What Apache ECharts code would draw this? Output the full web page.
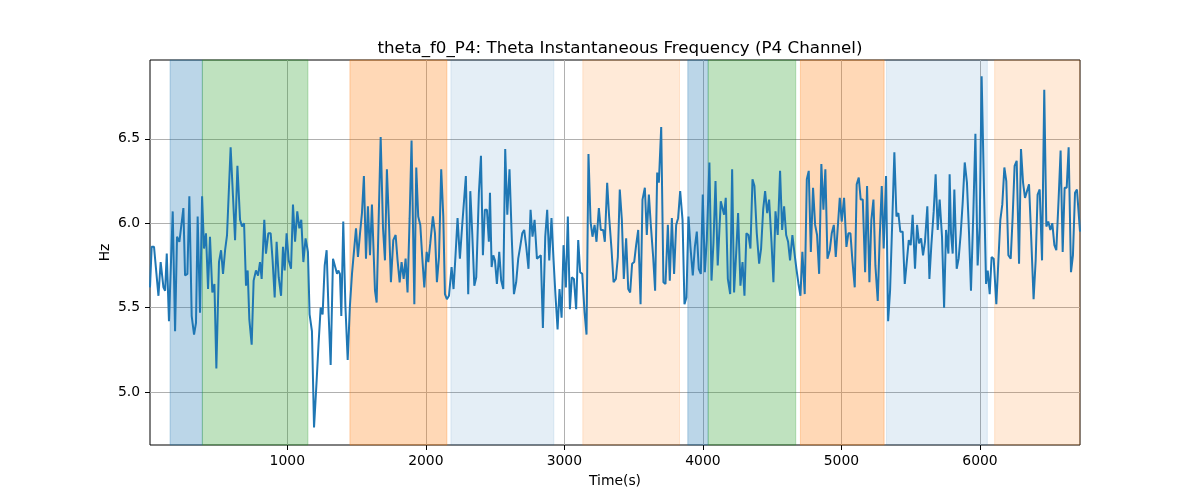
<!DOCTYPE html>
<html>
<head>
<meta charset="utf-8">
<script src="https://cdn.jsdelivr.net/npm/echarts@6/dist/echarts.min.js"></script>
<style>html,body{margin:0;padding:0;background:#fff;}#c{width:1200px;height:500px;}</style>
</head>
<body>
<div id="c"></div>
<script>
var titleText = 'theta_f0_P4: Theta Instantaneous Frequency (P4 Channel)';
var xTicks = [1000, 2000, 3000, 4000, 5000, 6000];
var yTicks = [5.0, 5.5, 6.0, 6.5];

var times = [
9,21,38,70,86,106,118,130,146,173,190,204,221,250,262,279,293,310,327,341,353,370,385,399,413,428,442,459,474,488,507,522,536,551,565,591,608,623,640,659,673,688,702,714,726,743,757,774,789,
803,815,834,846,863,880,894,909,923,938,955,969,981,995,1010,1027,1041,1056,1072,1087,1101,1116,1132,1149,1161,1178,1193,1212,1226,1241,1255,1270,1284,1298,1313,1330,1344,1359,1368,1380,1390,1404,1419,1436,1452,1467,1481,1496,1510,1525,1539,1553,1568,1582,1597,1611,
1633,1645,1674,1691,1705,1719,1734,1748,1765,1782,1796,1811,1825,1840,1854,1868,1883,1897,1917,1931,1945,1960,1974,1989,2006,2018,2032,2051,2066,2080,2095,2111,2126,2138,2152,2167,2186,2200,2215,2229,2246,2261,2275,2289,2306,2321,2335,2350,2364,2383,2398,2412,2426,2441,2455,
2463,2475,2487,2499,2513,2530,2544,2559,2573,2588,2604,2621,2636,2652,2667,2681,2696,2710,2725,2741,2756,2770,2785,2802,2816,2830,2845,2862,2876,2891,2907,2922,2936,2951,2965,2980,2994,3011,3025,3040,3054,3069,3085,3100,3114,3129,3146,3160,3174,3189,3203,3218,3232,3249,3263,3280,
3292,3309,3323,3340,3355,3372,3386,3400,3415,3429,3446,3461,3475,3489,3504,3518,3533,3550,3564,3581,3595,3610,3624,3641,3655,3670,3682,3699,3715,3730,3747,3761,3776,3792,3807,3821,3836,3853,3867,3881,3896,3910,3927,3942,3956,3970,3985,3999,4014,4028,4047,4062,4076,4091,4107,
4129,4141,4153,4165,4180,4197,4211,4225,4240,4254,4271,4286,4300,4314,4329,4343,4358,4372,4389,4406,4420,4435,4449,4464,4478,4495,4509,4524,4540,4557,4572,4586,4601,4615,4629,4646,4663,4675,4690,4704,4718,4735,4750,4764,4779,4795,4810,4824,4839,4855,4870,4884,4899,4916,4930,4945,
4959,4973,4988,5002,5019,5036,5050,5065,5079,5096,5110,5125,5139,5154,5171,5185,5202,5216,5231,5245,5262,5276,5291,5305,5322,5337,5351,5368,5382,5397,5411,5425,5442,5457,5471,5486,5500,5514,5531,5546,5560,5575,5589,5603,5620,5635,5649,5666,5680,5695,5709,5726,5741,5755,5772,
5781,5791,5803,5815,5832,5846,5861,5875,5890,5906,5921,5935,5952,5967,5983,5998,6012,6029,6044,6056,6070,6084,6099,6118,6133,6147,6161,6176,6190,6205,6222,6236,6250,6265,6282,6296,6311,6325,6339,6354,6368,6387,6402,6416,6431,6448,6464,6479,6493,6508,6522,6537,6551,6568,6582,6597,6611,6626,6640,6657,6671,6686,6700,6722
];

var freqHz = [
5.62,5.86,5.86,5.57,5.77,5.62,5.60,5.82,5.42,6.07,5.36,5.92,5.89,6.09,5.69,5.70,6.16,5.45,5.34,5.41,6.04,5.47,6.16,5.85,5.94,5.61,5.92,5.59,5.64,5.14,5.77,5.84,5.70,5.84,5.93,6.45,6.16,5.90,6.34,6.02,5.98,6.00,5.63,5.72,5.43,5.28,5.66,5.72,5.69,
5.77,5.67,6.02,5.82,5.94,5.94,5.78,5.56,5.89,5.68,5.57,5.86,5.72,5.94,5.78,5.73,6.11,5.89,6.07,5.97,6.02,5.77,5.91,5.83,5.46,5.36,4.79,5.07,5.29,5.50,5.46,5.75,5.84,5.47,5.16,5.79,5.79,5.70,5.72,5.70,5.45,6.01,5.52,5.19,5.51,5.70,5.83,5.97,5.80,5.94,6.06,6.28,5.79,6.10,5.81,6.11,
5.60,5.53,6.51,5.97,5.78,6.32,6.00,5.65,5.90,5.93,5.78,5.65,5.77,5.67,5.79,5.59,6.03,6.49,5.52,6.33,6.04,5.99,5.80,5.62,5.83,5.77,5.88,6.04,5.94,5.65,5.80,6.32,6.04,5.58,5.55,5.57,5.74,5.61,5.82,6.03,5.79,5.97,5.96,6.28,5.58,6.19,5.94,5.63,5.68,6.18,6.40,5.81,6.08,6.08,5.89,
6.18,5.74,5.81,5.78,5.64,5.83,5.66,5.61,6.44,6.05,6.32,5.90,5.58,5.65,5.79,5.86,5.94,5.96,5.86,5.73,6.08,5.92,6.02,5.79,5.79,5.81,5.38,5.92,6.08,5.78,6.03,5.78,5.57,5.37,5.61,5.44,5.87,5.62,6.04,5.49,5.68,5.67,5.49,5.90,5.71,5.70,5.47,5.34,6.41,6.01,5.92,5.99,5.89,6.09,5.96,5.96,
5.89,6.24,6.04,5.85,5.65,5.67,5.80,6.20,6.02,5.67,5.91,5.61,5.59,5.76,5.77,5.87,5.96,5.52,6.14,6.21,5.93,6.17,5.99,5.80,5.60,6.30,6.24,6.57,5.65,5.64,5.99,5.66,6.03,5.70,5.99,6.03,6.19,6.02,5.52,5.56,6.04,5.86,5.69,5.86,5.95,5.73,5.70,6.17,5.71,5.90,6.36,5.66,5.88,6.25,5.75,
6.13,6.14,6.05,6.15,5.67,5.58,6.32,5.59,5.82,6.06,5.63,5.77,5.57,5.94,5.93,5.85,6.26,6.22,5.94,5.76,5.85,6.08,6.19,6.06,6.14,5.89,5.65,6.07,5.93,6.31,5.96,6.10,5.93,5.89,5.78,5.93,5.81,5.73,5.64,5.57,5.83,5.58,6.26,6.31,5.83,6.21,5.99,5.93,5.70,6.35,6.08,6.32,5.79,5.84,5.94,5.99,
5.80,5.81,6.15,6.01,6.15,5.86,5.94,5.94,5.78,5.62,6.23,6.27,6.14,6.14,5.71,6.22,5.65,6.02,6.14,5.75,5.54,5.91,6.22,5.85,6.28,5.42,5.60,6.04,6.42,6.04,6.06,5.95,5.95,5.64,5.64,5.90,5.87,6.05,5.73,5.99,5.88,5.91,5.81,5.89,6.10,5.67,5.87,6.07,6.29,5.96,6.14,5.92,5.50,5.96,5.82,
6.29,5.94,5.82,6.20,5.73,5.79,5.94,6.12,6.36,6.24,5.94,5.60,6.06,6.53,5.75,5.98,6.87,6.20,5.64,5.72,5.58,5.80,5.79,5.52,5.78,6.02,6.11,6.33,6.25,5.81,5.79,6.04,6.34,6.37,5.76,6.44,6.24,6.15,6.14,6.23,5.95,5.55,5.78,6.17,6.20,5.78,6.79,5.98,6.01,5.96,6.00,5.87,5.84,6.15,6.43,5.83,6.21,6.21,6.45,5.71,5.81,6.18,6.20,5.95
];

// shaded intervals: start, end, kind
var spanStart = [154, 387, 1452, 2181, 3133, 3891, 4038, 4704, 5325, 6106];
var spanEnd   = [387, 1149, 2152, 2924, 3831, 4038, 4670, 5308, 6053, 6722];
var spanKind  = ['blue', 'green', 'orange', 'lightblue', 'lightorange', 'blue', 'green', 'orange', 'lightblue', 'lightorange'];

var kindColor = {
  blue: 'rgba(31,119,180,0.3)',
  green: 'rgba(44,160,44,0.3)',
  orange: 'rgba(255,127,14,0.3)',
  lightblue: 'rgba(31,119,180,0.12)',
  lightorange: 'rgba(255,127,14,0.16)'
};

var lineData = times.map(function (t, i) { return [t, freqHz[i]]; });
var areas = spanStart.map(function (s, i) {
  var c = kindColor[spanKind[i]];
  return [{ xAxis: s, itemStyle: { color: c, borderColor: c, borderWidth: 1 } }, { xAxis: spanEnd[i] }];
});

var FONT = 'DejaVu Sans';
var chart = echarts.init(document.getElementById('c'), null, { renderer: 'canvas' });
chart.setOption({
  animation: false,
  backgroundColor: '#ffffff',
  textStyle: { fontFamily: FONT },
  title: {
    text: titleText,
    left: 615, top: 35, textAlign: 'center',
    textStyle: { fontFamily: FONT, fontSize: 16.7, fontWeight: 'normal', color: '#000' }
  },
  grid: { left: 150, right: 120, top: 60, bottom: 55, show: true, borderColor: '#000', borderWidth: 1, backgroundColor: 'transparent' },
  xAxis: {
    type: 'value', min: 9, max: 6722,
    name: 'Time(s)', nameLocation: 'middle', nameGap: 29,
    nameTextStyle: { fontFamily: FONT, fontSize: 13.9, color: '#000' },
    axisLine: { show: false },
    axisTick: { show: true, length: 5, lineStyle: { color: '#000' }, customValues: xTicks },
    axisLabel: { color: '#000', fontFamily: FONT, fontSize: 13.9, margin: 9, customValues: xTicks,
      formatter: function (v) { return String(Math.round(v)); } },
    splitLine: { show: true, lineStyle: { color: '#b0b0b0', width: 1 } }
  },
  yAxis: {
    type: 'value', min: 4.686, max: 6.967,
    name: 'Hz', nameLocation: 'middle', nameGap: 38, nameMoveOverlap: false,
    nameTextStyle: { fontFamily: FONT, fontSize: 13.9, color: '#000' },
    axisLine: { show: false },
    axisTick: { show: true, length: 5, lineStyle: { color: '#000' }, customValues: yTicks },
    axisLabel: { color: '#000', fontFamily: FONT, fontSize: 13.9, margin: 10, customValues: yTicks,
      formatter: function (v) { return Number(v).toFixed(1); } },
    splitLine: { show: true, lineStyle: { color: '#b0b0b0', width: 1 } }
  },
  series: [{
    type: 'line',
    data: lineData,
    showSymbol: false,
    symbol: 'none',
    lineStyle: { color: '#1f77b4', width: 2 },
    itemStyle: { color: '#1f77b4' },
    z: 3,
    markArea: { silent: true, data: areas }
  }]
});
</script>
</body>
</html>
